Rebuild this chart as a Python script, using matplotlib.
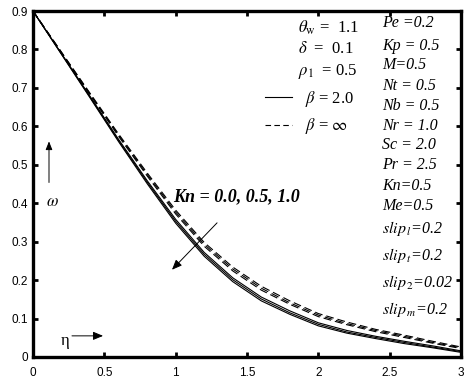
import numpy as np
import matplotlib
matplotlib.use("Agg")
import matplotlib.pyplot as plt
from matplotlib.lines import Line2D

plt.rcParams["mathtext.fontset"] = "stix"

# eta grid and omega profiles
eta = [0.0, 0.2, 0.4, 0.6, 0.8, 1.0, 1.2, 1.4, 1.6, 1.8, 2.0, 2.2, 2.4, 2.6, 2.8, 3.0]

# beta = 2.0 (solid), Kn = 0.0, 0.5, 1.0
solid_kn00 = [0.900, 0.789, 0.678, 0.566, 0.459, 0.358, 0.272, 0.206, 0.156, 0.120, 0.089, 0.069, 0.054, 0.041, 0.029, 0.016]
solid_kn05 = [0.900, 0.788, 0.676, 0.563, 0.455, 0.353, 0.267, 0.201, 0.151, 0.115, 0.085, 0.065, 0.051, 0.038, 0.026, 0.014]
solid_kn10 = [0.900, 0.787, 0.674, 0.560, 0.451, 0.348, 0.262, 0.196, 0.146, 0.111, 0.081, 0.062, 0.048, 0.035, 0.024, 0.012]

# beta = infinity (dashed), Kn = 0.0, 0.5, 1.0
dash_kn00 = [0.900, 0.793, 0.686, 0.580, 0.479, 0.382, 0.298, 0.234, 0.184, 0.146, 0.113, 0.091, 0.072, 0.057, 0.041, 0.026]
dash_kn05 = [0.900, 0.792, 0.684, 0.577, 0.475, 0.377, 0.293, 0.229, 0.179, 0.141, 0.109, 0.087, 0.069, 0.054, 0.038, 0.024]
dash_kn10 = [0.900, 0.791, 0.682, 0.574, 0.471, 0.372, 0.288, 0.224, 0.174, 0.137, 0.105, 0.084, 0.066, 0.051, 0.036, 0.022]

xticks = [0, 0.5, 1, 1.5, 2, 2.5, 3]
xticklabels = ["0", "0.5", "1", "1.5", "2", "2.5", "3"]
yticks = [0, 0.1, 0.2, 0.3, 0.4, 0.5, 0.6, 0.7, 0.8, 0.9]
yticklabels = ["0", "0.1", "0.2", "0.3", "0.4", "0.5", "0.6", "0.7", "0.8", "0.9"]

left_params = [r"$\theta_{\rm w}$ =  1.1", r"$\delta$  =  0.1", r"$\rho_1$  = 0.5"]
right_params = ["Pe =0.2", "Kp = 0.5", "M=0.5", "Nt = 0.5", "Nb = 0.5", "Nr = 1.0",
                "Sc = 2.0", "Pr = 2.5", "Kn=0.5", "Me=0.5",
                r"$slip_{\,l}$=0.2", r"$slip_{\,t}$=0.2", r"$slip_{\,2}$=0.02", r"$slip_{\,m}$=0.2"]

""" Create Plot """
fig = plt.figure(figsize=(4.69, 3.81), dpi=100)
ax = fig.add_axes([0.0704, 0.063, 0.9126, 0.908])

lw = 0.8
for ys in [solid_kn00, solid_kn05, solid_kn10]:
    ax.plot(eta, ys, "-", color="black", linewidth=lw)
for ys in [dash_kn00, dash_kn05, dash_kn10]:
    ax.plot(eta, ys, "--", color="black", linewidth=lw, dashes=(7, 3.5))

ax.set_xlim(0, 3)
ax.set_ylim(0, 0.9)
ax.set_xticks(xticks)
ax.set_xticklabels(xticklabels)
ax.set_yticks(yticks)
ax.set_yticklabels(yticklabels)

for sp in ax.spines.values():
    sp.set_linewidth(2.4)
ax.tick_params(direction="in", length=3.6, width=2.0, top=True, right=True,
               labelsize=8.5)
ax.tick_params(axis="x", pad=7)
ax.tick_params(axis="y", pad=3.5)
for lab in ax.get_xticklabels() + ax.get_yticklabels():
    lab.set_family("Liberation Sans")

""" Parameter text """
serif = "Liberation Serif"
left_y = [0.845, 0.790, 0.733]
for txt, y in zip(left_params, left_y):
    ax.text(1.857, y, txt, family=serif, fontsize=12, va="baseline", ha="left")

# baselines in pixels converted to data units
right_px = [28, 51, 70, 91, 111, 131, 150, 170, 190, 210, 233, 260, 287, 314]
right_y = [(357 - p) / 383.3 for p in right_px]
for txt, y in zip(right_params, right_y):
    ax.text(2.446, y, txt, family=serif, style="italic", fontsize=11.5,
            va="baseline", ha="left")

""" Legend """
handles = [Line2D([], [], color="black", linewidth=lw),
           Line2D([], [], color="black", linewidth=lw, linestyle="--", dashes=(5, 3))]
leg = ax.legend(handles, [r"$\beta$ = 2.0", r"$\beta$ = $\infty$"], loc="upper left",
                bbox_to_anchor=(0.542, 0.775), frameon=False, borderpad=0,
                borderaxespad=0, handlelength=1.6, handletextpad=0.8,
                labelspacing=0.45, prop={"family": serif, "size": 12})

""" Annotations """
ax.text(0.981, 0.404, "Kn = 0.0, 0.5, 1.0", family=serif, style="italic",
        weight="bold", fontsize=13, va="baseline", ha="left")
ax.annotate("", xy=(0.974, 0.227), xytext=(1.290, 0.349),
            arrowprops=dict(arrowstyle="-|>,head_length=0.6,head_width=0.25",
                            color="black", linewidth=0.7, shrinkA=0, shrinkB=0))

ax.annotate("", xy=(0.112, 0.561), xytext=(0.112, 0.454),
            arrowprops=dict(arrowstyle="-|>,head_length=0.5,head_width=0.2",
                            color="black", linewidth=0.7, shrinkA=0, shrinkB=0))
ax.text(0.133, 0.407, r"$\omega$", fontsize=12, va="center", ha="center")

ax.text(0.224, 0.042, "η", family=serif, fontsize=12, va="center", ha="center")
ax.annotate("", xy=(0.491, 0.055), xytext=(0.273, 0.055),
            arrowprops=dict(arrowstyle="-|>,head_length=0.6,head_width=0.25",
                            color="black", linewidth=0.7, shrinkA=0, shrinkB=0))

plt.savefig("out.png", dpi=100)
